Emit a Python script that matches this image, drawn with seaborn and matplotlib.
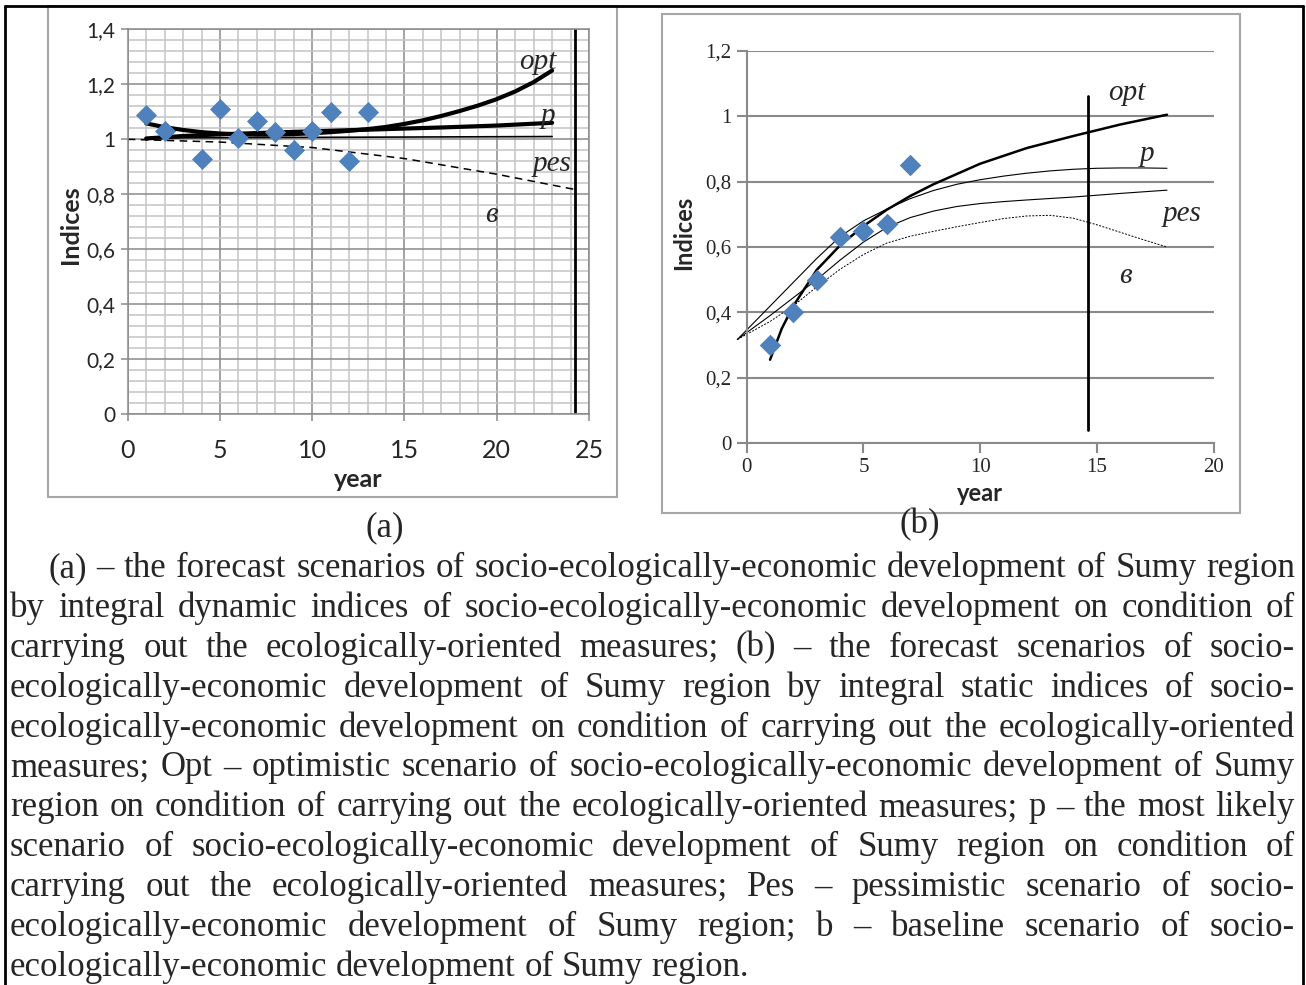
import matplotlib
matplotlib.use('Agg')
import matplotlib.pyplot as plt
import seaborn as sns
from matplotlib.patches import Rectangle
from matplotlib.lines import Line2D

# ---- (a) integral dynamic indices ----
a_year = [1, 2, 4, 5, 6, 7, 8, 9, 10, 11, 12, 13]
a_index = [1.09, 1.03, 0.93, 1.11, 1.005, 1.065, 1.025, 0.96, 1.03, 1.10, 0.92, 1.10]

a_opt_x = [1, 2, 3, 4, 5, 6, 7, 8, 9, 10, 11, 12, 13, 14, 15, 16, 17, 18, 19, 20, 21, 22, 23]
a_opt_y = [1.058, 1.044, 1.034, 1.026, 1.021, 1.018, 1.017, 1.017, 1.019, 1.022, 1.026, 1.031,
           1.037, 1.045, 1.056, 1.069, 1.085, 1.103, 1.123, 1.146, 1.174, 1.208, 1.25]
a_p_x = [1, 3, 5, 8, 11, 14, 17, 20, 23]
a_p_y = [1.003, 1.012, 1.018, 1.025, 1.031, 1.037, 1.043, 1.050, 1.060]
a_b_x = [1, 23]
a_b_y = [1.005, 1.01]
a_pes_x = [0, 5, 10, 15, 20, 24.2]
a_pes_y = [1.0, 0.99, 0.97, 0.93, 0.873, 0.818]
a_vline = 24.25
a_yticks = [0, 0.2, 0.4, 0.6, 0.8, 1.0, 1.2, 1.4]
a_yticklabels = ['0', '0,2', '0,4', '0,6', '0,8', '1', '1,2', '1,4']
a_xticks = [0, 5, 10, 15, 20, 25]

# ---- (b) integral static indices ----
b_year = [1, 2, 3, 4, 5, 6, 7]
b_index = [0.30, 0.40, 0.50, 0.63, 0.65, 0.67, 0.85]

b_opt_x = [1, 1.5, 2, 3, 4, 5, 6, 7, 8, 10, 12, 14, 16, 18]
b_opt_y = [0.255, 0.35, 0.42, 0.53, 0.605, 0.664, 0.714, 0.756, 0.792, 0.855, 0.903, 0.94, 0.975, 1.005]
b_p_x = [-0.4, 0, 1, 2, 3, 4, 5, 6, 7, 8, 9, 10, 11, 12, 13, 14, 15, 16, 17, 18]
b_p_y = [0.317, 0.346, 0.419, 0.492, 0.565, 0.632, 0.68, 0.716, 0.748, 0.773, 0.792, 0.806, 0.817,
         0.826, 0.833, 0.838, 0.841, 0.842, 0.842, 0.841]
b_pes_x = [-0.4, 1, 2, 3, 4, 5, 6, 7, 8, 9, 10, 11, 12, 14, 16, 18]
b_pes_y = [0.317, 0.39, 0.445, 0.50, 0.56, 0.615, 0.66, 0.69, 0.71, 0.724, 0.733, 0.739, 0.744,
           0.753, 0.764, 0.774]
b_base_x = [-0.4, 1, 2, 3, 4, 5, 6, 7, 8, 9, 10, 11, 12, 13, 14, 15, 16, 17, 18]
b_base_y = [0.317, 0.372, 0.42, 0.478, 0.532, 0.577, 0.612, 0.633, 0.648, 0.662, 0.675, 0.687, 0.695,
            0.697, 0.688, 0.668, 0.645, 0.622, 0.60]
b_vline = 14.63
b_yticks = [0, 0.2, 0.4, 0.6, 0.8, 1.0, 1.2]
b_yticklabels = ['0', '0,2', '0,4', '0,6', '0,8', '1', '1,2']
b_xticks = [0, 5, 10, 15, 20]

caption_lines = [
    "(a) – the forecast scenarios of socio-ecologically-economic development of Sumy region",
    "by integral dynamic indices of socio-ecologically-economic development on condition of",
    "carrying out the ecologically-oriented measures; (b) – the forecast scenarios of socio-",
    "ecologically-economic development of Sumy region by integral static indices of socio-",
    "ecologically-economic development on condition of carrying out the ecologically-oriented",
    "measures; Opt – optimistic scenario of socio-ecologically-economic development of Sumy",
    "region on condition of carrying out the ecologically-oriented measures; p – the most likely",
    "scenario of socio-ecologically-economic development of Sumy region on condition of",
    "carrying out the ecologically-oriented measures; Pes – pessimistic scenario of socio-",
    "ecologically-economic development of Sumy region; b – baseline scenario of socio-",
    "ecologically-economic development of Sumy region.",
]

sns.set_theme(style='white')
plt.rcParams['font.family'] = ['Lato', 'DejaVu Sans']

W, H = 1306, 985
fig = plt.figure(figsize=(W / 100, H / 100), dpi=100)
blue = '#4F81BD'
serif = 'Liberation Serif'

# outer frame and chart boxes
for xs, ys in [([5, 1303], [6, 6]), ([5, 5], [6, 985]), ([1303, 1303], [6, 985])]:
    fig.add_artist(Line2D([x / W for x in xs], [1 - y / H for y in ys], color='black', lw=2,
                          transform=fig.transFigure))
fig.add_artist(Rectangle((48 / W, 1 - 497 / H), (617 - 48) / W, (497 - 6) / H, fill=False,
                         edgecolor='#a6a6a6', lw=1.5, transform=fig.transFigure))
fig.add_artist(Rectangle((662 / W, 1 - 513 / H), (1240 - 662) / W, (513 - 14) / H, fill=False,
                         edgecolor='#a6a6a6', lw=1.5, transform=fig.transFigure))

# ---------------- chart (a) ----------------
ax1 = fig.add_axes([127.7 / W, 1 - 414.3 / H, (589 - 127.7) / W, 385 / H])
ax1.set_xlim(0, 25)
ax1.set_ylim(0, 1.4)
ax1.set_xticks(a_xticks)
ax1.set_xticks(range(0, 26), minor=True)
ax1.set_yticks(a_yticks)
ax1.set_yticks([i * 0.04 for i in range(36)], minor=True)
ax1.set_yticklabels(a_yticklabels)
ax1.grid(which='minor', color='#c4c4c4', lw=1.1, zorder=0)
ax1.grid(which='major', color='#8a8a8a', lw=1.1, zorder=0)
ax1.set_axisbelow(True)
for s in ax1.spines.values():
    s.set_color('#8a8a8a')
    s.set_linewidth(1.1)
ax1.tick_params(axis='both', which='major', direction='out', length=5, color='#8a8a8a', width=1.1,
                bottom=True, left=True)
ax1.tick_params(axis='both', which='minor', length=0)
ax1.tick_params(axis='y', labelsize=15, pad=4)
ax1.tick_params(axis='x', labelsize=18, pad=13)

sns.lineplot(x=a_pes_x, y=a_pes_y, ax=ax1, color='black', lw=1.1, linestyle=(0, (5, 3.5)),
             sort=False, estimator=None)
sns.lineplot(x=a_b_x, y=a_b_y, ax=ax1, color='black', lw=1.2, sort=False, estimator=None)
sns.lineplot(x=a_p_x, y=a_p_y, ax=ax1, color='black', lw=3.0, sort=False, estimator=None)
sns.lineplot(x=a_opt_x, y=a_opt_y, ax=ax1, color='black', lw=3.0, sort=False, estimator=None)
sns.scatterplot(x=a_year, y=a_index, ax=ax1, marker='D', s=115, color=blue, linewidth=0, zorder=4)
ax1.plot([a_vline, a_vline], [0.01, 1.4], color='black', lw=2)

for txt, x, y in [('opt', 22.2, 1.28), ('p', 22.8, 1.085), ('pes', 23.0, 0.91), ('в', 19.7, 0.725)]:
    ax1.text(x, y, txt, family=serif, style='italic', size=21, ha='center', va='center')

ax1.set_xlabel('year', fontsize=18, fontweight='bold')
ax1.set_ylabel('Indices', fontsize=18, fontweight='bold')
ax1.xaxis.set_label_coords(0.499, -0.14)
ax1.yaxis.set_label_coords(-0.1, 0.492)

# ---------------- chart (b) ----------------
ax2 = fig.add_axes([746.7 / W, 1 - 443 / H, 467 / W, 392 / H])
ax2.set_xlim(0, 20)
ax2.set_ylim(0, 1.2)
ax2.set_xticks(b_xticks)
ax2.set_yticks(b_yticks)
ax2.set_yticklabels(b_yticklabels)
ax2.grid(axis='y', color='#8a8a8a', lw=1.5, zorder=0)
ax2.grid(axis='x', visible=False)
ax2.set_axisbelow(True)
for side in ['top', 'right']:
    ax2.spines[side].set_visible(False)
for side in ['left', 'bottom']:
    ax2.spines[side].set_color('#8a8a8a')
    ax2.spines[side].set_linewidth(1.5)
ax2.tick_params(axis='both', direction='out', length=7, color='#8a8a8a', width=1.5,
                bottom=True, left=True, labelsize=15, pad=4)
for lab in ax2.get_xticklabels() + ax2.get_yticklabels():
    lab.set_family(serif)

sns.lineplot(x=b_base_x, y=b_base_y, ax=ax2, color='black', lw=0.7, linestyle=(0, (2, 1.5)),
             sort=False, estimator=None, clip_on=False)
sns.lineplot(x=b_pes_x, y=b_pes_y, ax=ax2, color='black', lw=0.8, sort=False, estimator=None,
             clip_on=False)
sns.lineplot(x=b_p_x, y=b_p_y, ax=ax2, color='black', lw=0.8, sort=False, estimator=None,
             clip_on=False)
sns.lineplot(x=b_opt_x, y=b_opt_y, ax=ax2, color='black', lw=1.8, sort=False, estimator=None)
sns.scatterplot(x=b_year, y=b_index, ax=ax2, marker='D', s=120, color=blue, linewidth=0, zorder=4)
ax2.plot([b_vline, b_vline], [0.04, 1.062], color='black', lw=2)

for txt, x, y in [('opt', 16.3, 1.07), ('p', 17.15, 0.885), ('pes', 18.65, 0.70), ('в', 16.2, 0.51)]:
    ax2.text(x, y, txt, family=serif, style='italic', size=21, ha='center', va='center')

ax2.set_xlabel('year', fontsize=17, fontweight='bold')
ax2.set_ylabel('Indices', fontsize=17, fontweight='bold')
ax2.xaxis.set_label_coords(0.4996, -0.1)
ax2.yaxis.set_label_coords(-0.11, 0.536)

# ---------------- captions ----------------
fig.text(385 / W, 1 - 536 / H, '(a)', family=serif, size=25, ha='center', va='baseline')
fig.text(920 / W, 1 - 533 / H, '(b)', family=serif, size=25, ha='center', va='baseline')

renderer = fig.canvas.get_renderer()
for i, line in enumerate(caption_lines):
    y = 1 - (577 + 39.9 * i) / H
    x0 = 48 if i == 0 else 10
    x1 = 1295
    words = line.split(' ')
    objs = [fig.text(0, y, w, family=serif, size=25, va='baseline', ha='left') for w in words]
    widths = [o.get_window_extent(renderer).width for o in objs]
    if i == len(caption_lines) - 1:
        gap = 8.5
    else:
        gap = (x1 - x0 - sum(widths)) / (len(words) - 1)
    pos = x0
    for o, w in zip(objs, widths):
        o.set_x(pos / W)
        pos += w + gap

fig.savefig('out.png', dpi=100)
